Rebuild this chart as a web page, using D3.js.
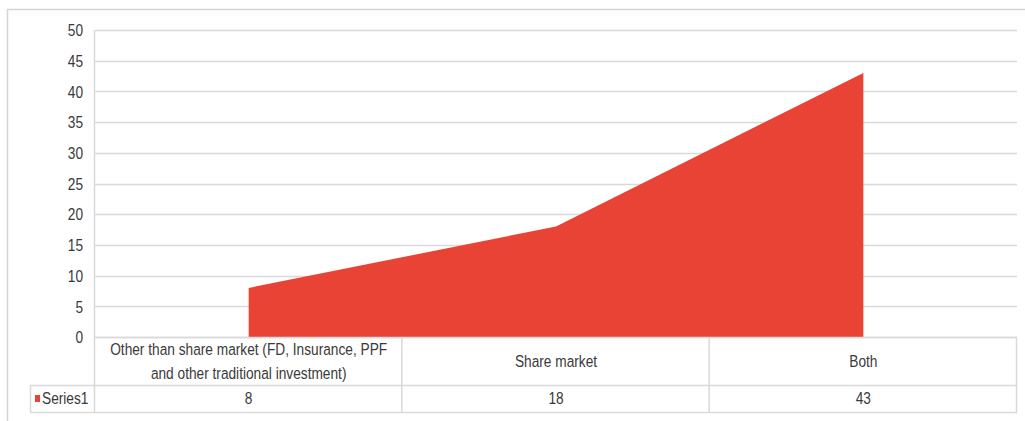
<!DOCTYPE html>
<html>
<head>
<meta charset="utf-8">
<script src="https://cdn.jsdelivr.net/npm/d3@7"></script>
<style>
  html, body { margin: 0; padding: 0; background: #fff; }
  svg { display: block; }
  text { font-family: "Liberation Sans", Arial, sans-serif; fill: #3a3a3a; }
</style>
</head>
<body>
<svg id="chart" width="1025" height="421"></svg>
<script>
// Investment category data
const categories = [
  ["Other than share market (FD, Insurance, PPF", "and other traditional investment)"],
  ["Share market"],
  ["Both"]
];
const seriesName = "Series1";
const values = [8, 18, 43];
const yTicks = [0, 5, 10, 15, 20, 25, 30, 35, 40, 45, 50];

const W = 1025, H = 421;
const plot = { left: 95, right: 1017, top: 30, bottom: 337 };
const table = { legendLeft: 30, catRowBottom: 385, valRowBottom: 412 };
const areaColor = "#E94335";
const gridColor = "#d9d9d9";
const fontSize = 16.5;
const narrow = 0.83; // condensed look for all labels

const svg = d3.select("#chart");

// places a condensed text label at (x, y)
function label(parent, x, yPos, str, anchor) {
  return parent.append("text")
    .attr("transform", `translate(${x},${yPos}) scale(${narrow},1)`)
    .attr("text-anchor", anchor || "middle")
    .attr("dy", "0.35em")
    .style("font-size", fontSize + "px")
    .text(str);
}

// chart frame
svg.append("path")
  .attr("d", `M7.5,${H} V9.5 H${W}`)
  .attr("fill", "none").attr("stroke", "#d4d4d4").attr("stroke-width", 1.5);

const x = d3.scaleBand().domain(d3.range(categories.length))
  .range([plot.left, plot.right]).padding(0);
const y = d3.scaleLinear().domain([0, 50]).range([plot.bottom, plot.top]);

// horizontal gridlines
svg.append("g").selectAll("line").data(yTicks).join("line")
  .attr("x1", plot.left).attr("x2", plot.right)
  .attr("y1", d => Math.round(y(d)) + 0.5).attr("y2", d => Math.round(y(d)) + 0.5)
  .attr("stroke", gridColor).attr("stroke-width", 1.5);

// left plot edge
svg.append("line")
  .attr("x1", plot.left - 0.5).attr("x2", plot.left - 0.5)
  .attr("y1", plot.top).attr("y2", plot.bottom)
  .attr("stroke", gridColor).attr("stroke-width", 1.5);

// y axis labels
const yAxis = d3.axisLeft(y).tickValues(yTicks).tickSize(0).tickPadding(0);
const yg = svg.append("g").attr("transform", `translate(${plot.left},0)`).call(yAxis);
yg.select(".domain").remove();
yg.selectAll(".tick text")
  .attr("x", null).attr("dy", "0.35em")
  .attr("transform", `translate(-12,0) scale(${narrow},1)`)
  .attr("fill", null)
  .style("font-size", fontSize + "px")
  .style("font-family", null);
yg.attr("font-family", null).attr("font-size", null);

// area
const cx = i => x(i) + x.bandwidth() / 2;
const area = d3.area()
  .x((d, i) => cx(i))
  .y0(y(0))
  .y1(d => y(d));
svg.append("path").datum(values)
  .attr("d", area)
  .attr("fill", areaColor);

// data table
const tg = svg.append("g").attr("fill", "none").attr("stroke", gridColor).attr("stroke-width", 1.5);
tg.append("line").attr("x1", plot.left).attr("x2", plot.right)
  .attr("y1", plot.bottom + 0.5).attr("y2", plot.bottom + 0.5);
tg.append("line").attr("x1", table.legendLeft).attr("x2", plot.right)
  .attr("y1", table.catRowBottom + 0.5).attr("y2", table.catRowBottom + 0.5);
tg.append("line").attr("x1", table.legendLeft).attr("x2", plot.right)
  .attr("y1", table.valRowBottom + 0.5).attr("y2", table.valRowBottom + 0.5);
tg.append("line").attr("x1", table.legendLeft + 0.5).attr("x2", table.legendLeft + 0.5)
  .attr("y1", table.catRowBottom).attr("y2", table.valRowBottom);
const bounds = d3.range(categories.length).map(i => x(i)).concat([plot.right]);
tg.selectAll("line.v").data(bounds).join("line").attr("class", "v")
  .attr("x1", d => d - 0.5).attr("x2", d => d - 0.5)
  .attr("y1", plot.bottom).attr("y2", table.valRowBottom);

// category labels
const catMid = (plot.bottom + table.catRowBottom) / 2;
const cg = svg.append("g");
categories.forEach((lines, i) => {
  lines.forEach((ln, k) => {
    label(cg, cx(i), catMid + (k - (lines.length - 1) / 2) * 24, ln);
  });
});

// value row
const valMid = (table.catRowBottom + table.valRowBottom) / 2;
const vg = svg.append("g");
values.forEach((v, i) => label(vg, cx(i), valMid, v));

// legend key
svg.append("rect").attr("x", 35).attr("y", valMid - 3.5).attr("width", 5).attr("height", 7)
  .attr("fill", areaColor);
label(svg, 42, valMid, seriesName, "start");
</script>
</body>
</html>
